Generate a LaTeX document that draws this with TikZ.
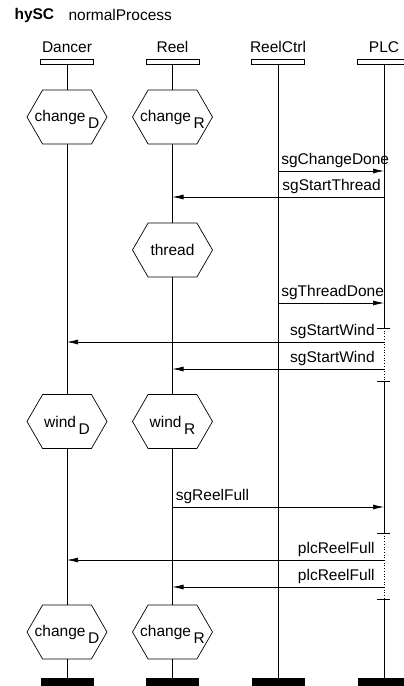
\documentclass[tikz,border=0pt]{standalone}
\usepackage{fontspec}
\setmainfont{Liberation Sans}
\usetikzlibrary{shapes.symbols,arrows.meta}

\begin{document}
\begin{tikzpicture}[x=1pt,y=-1pt,
  every node/.style={font=\fontsize{15.5}{18}\selectfont},
  headbox/.style={draw,line width=0.7pt,minimum width=53pt,minimum height=5pt,inner sep=0pt},
  endbar/.style={fill=black,minimum width=53pt,minimum height=8pt,inner sep=0pt},
  cond/.style={draw,line width=0.7pt,signal,signal to=west and east,signal pointer angle=120,
    minimum width=80pt,minimum height=54pt,inner sep=1pt},
  life/.style={line width=0.7pt},
  msg/.style={line width=0.7pt,-{Latex[length=11pt,width=5pt]}},
  lab/.style={inner sep=3pt}]

\useasboundingbox (0,0) rectangle (404,686);

\node[anchor=west,font=\bfseries\fontsize{15.5}{18}\selectfont] (title) at (11,15) {hySC};
\node[anchor=west] (proc) at (65,15) {normalProcess};

\foreach \n/\x/\t in {D/67/Dancer,R/172.5/Reel,C/278/ReelCtrl,P/384/PLC} {
  \node[headbox] (\n) at (\x,61.5) {};
  \node[anchor=base] (\n t) at (\x,52) {\t};
  \node[endbar] (\n e) at (\x,682) {};
}

\node[cond] (chD) at (67,117) {\makebox[0pt]{change\,\raisebox{-7pt}[0pt][0pt]{D}}};
\node[cond] (chR) at (172.5,117) {\makebox[0pt]{change\,\raisebox{-7pt}[0pt][0pt]{R}}};
\node[cond] (th) at (172.5,250) {\makebox[0pt]{thread}};
\node[cond] (wD) at (67,421.5) {\makebox[0pt]{wind\,\raisebox{-7pt}[0pt][0pt]{D}}};
\node[cond] (wR) at (172.5,421.5) {\makebox[0pt]{wind\,\raisebox{-7pt}[0pt][0pt]{R}}};
\node[cond] (ch2D) at (67,632) {\makebox[0pt]{change\,\raisebox{-7pt}[0pt][0pt]{D}}};
\node[cond] (ch2R) at (172.5,632) {\makebox[0pt]{change\,\raisebox{-7pt}[0pt][0pt]{R}}};

\draw[life] (D.south) -- (chD.north);
\draw[life] (chD.south) -- (wD.north);
\draw[life] (wD.south) -- (ch2D.north);
\draw[life] (ch2D.south) -- (De.north);

\draw[life] (R.south) -- (chR.north);
\draw[life] (chR.south) -- (th.north);
\draw[life] (th.south) -- (wR.north);
\draw[life] (wR.south) -- (ch2R.north);
\draw[life] (ch2R.south) -- (Re.north);

\draw[life] (C.south) -- (Ce.north);

\foreach \y [count=\i] in {328,381,533,599} {
  \coordinate (k\i) at (P |- 0,\y);
  \draw[life] ([xshift=-7pt]k\i) -- ([xshift=6pt]k\i);
}
\draw[life] (P.south) -- (k1);
\draw[life,dotted] (k1) -- (k2);
\draw[life] (k2) -- (k3);
\draw[life,dotted] (k3) -- (k4);
\draw[life] (k4) -- (Pe.north);

\draw[msg] (C |- 0,171) -- node[lab,pos=0,anchor=south west] {sgChangeDone} (P |- 0,171);
\draw[msg] (P |- 0,197) -- node[lab,pos=0,anchor=south east] {sgStartThread} (R |- 0,197);
\draw[msg] (C |- 0,303) -- node[lab,pos=0,anchor=south west] {sgThreadDone} (P |- 0,303);
\draw[msg] (P |- 0,342) -- node[lab,pos=0,anchor=south east,xshift=-6pt] {sgStartWind} (D |- 0,342);
\draw[msg] (P |- 0,369) -- node[lab,pos=0,anchor=south east,xshift=-6pt] {sgStartWind} (R |- 0,369);
\draw[msg] (R |- 0,507) -- node[lab,pos=0,anchor=south west] {sgReelFull} (P |- 0,507);
\draw[msg] (P |- 0,560) -- node[lab,pos=0,anchor=south east,xshift=-6pt] {plcReelFull} (D |- 0,560);
\draw[msg] (P |- 0,587) -- node[lab,pos=0,anchor=south east,xshift=-6pt] {plcReelFull} (R |- 0,587);

\end{tikzpicture}
\end{document}
